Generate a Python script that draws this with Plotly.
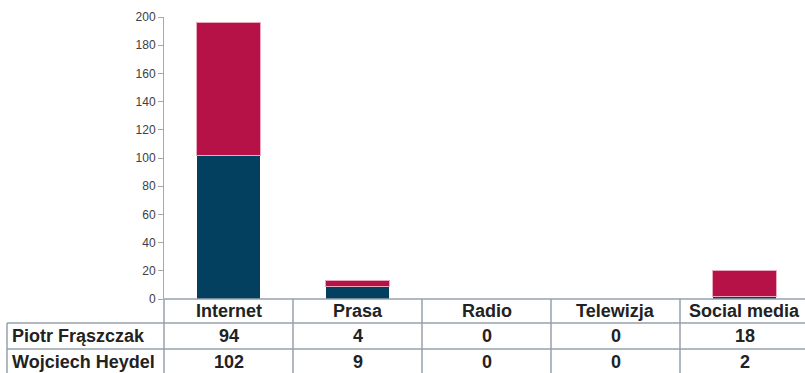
import plotly.graph_objects as go

# Media mentions per channel, split by person
categories = ["Internet", "Prasa", "Radio", "Telewizja", "Social media"]
series_names = ["Piotr Frąszczak", "Wojciech Heydel"]
piotr = [94, 4, 0, 0, 18]
wojciech = [102, 9, 0, 0, 2]
y_ticks = [0, 20, 40, 60, 80, 100, 120, 140, 160, 180, 200]

BLUE = "#03405F"
RED = "#B71247"
GRID = "#97A0AA"
TEXT = "#222222"
FONT = "Liberation Sans, Arial, sans-serif"

W, H = 805, 373
M_L, M_R, M_T, M_B = 164, 0, 17, 74
PLOT_W = W - M_L - M_R
PLOT_H = H - M_T - M_B
X_MIN = -0.5
X_MAX = X_MIN + PLOT_W / 129.0

fig = go.Figure()
fig.add_trace(go.Bar(
    name=series_names[1], x=categories, y=wojciech,
    marker=dict(color=BLUE, line=dict(color="rgba(255,255,255,0.55)", width=1)),
))
fig.add_trace(go.Bar(
    name=series_names[0], x=categories, y=piotr,
    marker=dict(color=RED, line=dict(color="#EBA9BD", width=1)),
))


def px_x(xpx):
    return (xpx - M_L) / PLOT_W


def px_y(ypx):
    return (H - M_B - ypx) / PLOT_H


def cat_x(v):
    return (v - X_MIN) / (X_MAX - X_MIN)


shapes = []
annotations = []

# table geometry (pixel rows)
row_top = H - M_B          # header row starts at the x axis
row_lines = [row_top, 323, 349, 375]
row_centers = [(row_lines[i] + row_lines[i + 1]) / 2 for i in range(3)]
left_edge = px_x(7)
right_edge = cat_x(len(categories) - 0.5) + 0.02

line_style = dict(color=GRID, width=1.5)
# horizontal rules
shapes.append(dict(type="line", xref="paper", yref="paper",
                   x0=0, x1=right_edge, y0=px_y(row_lines[0]), y1=px_y(row_lines[0]),
                   line=line_style))
for yl in row_lines[1:]:
    shapes.append(dict(type="line", xref="paper", yref="paper",
                       x0=left_edge, x1=right_edge, y0=px_y(yl), y1=px_y(yl),
                       line=line_style))
# left border of the label column
shapes.append(dict(type="line", xref="paper", yref="paper",
                   x0=left_edge, x1=left_edge, y0=px_y(row_lines[1]), y1=px_y(row_lines[3]),
                   line=line_style))
# column separators
for i in range(len(categories)):
    xb = cat_x(i - 0.5)
    shapes.append(dict(type="line", xref="paper", yref="paper",
                       x0=xb, x1=xb, y0=px_y(row_lines[0]), y1=px_y(row_lines[3]),
                       line=line_style))

cell_font = dict(family=FONT, size=18, color=TEXT)
# header row with category names
for i, c in enumerate(categories):
    annotations.append(dict(text=f"<b>{c}</b>", xref="paper", yref="paper",
                            x=cat_x(i), y=px_y(row_centers[0]),
                            xanchor="center", yanchor="middle", showarrow=False,
                            font=cell_font))
# data rows
for r, (name, vals) in enumerate([(series_names[0], piotr), (series_names[1], wojciech)]):
    yc = px_y(row_centers[r + 1])
    annotations.append(dict(text=f"<b>{name}</b>", xref="paper", yref="paper",
                            x=px_x(10), y=yc, xanchor="left", yanchor="middle",
                            showarrow=False, font=cell_font))
    for i, v in enumerate(vals):
        annotations.append(dict(text=f"<b>{v}</b>", xref="paper", yref="paper",
                                x=cat_x(i), y=yc, xanchor="center", yanchor="middle",
                                showarrow=False, font=cell_font))

fig.update_layout(
    width=W, height=H,
    margin=dict(l=M_L, r=M_R, t=M_T, b=M_B, pad=0),
    barmode="stack",
    bargap=0.51,
    showlegend=False,
    plot_bgcolor="white",
    paper_bgcolor="white",
    font=dict(family=FONT, color="#404040"),
    xaxis=dict(range=[X_MIN, X_MAX], showticklabels=False, showline=False,
               showgrid=False, zeroline=False, ticks=""),
    yaxis=dict(range=[0, 200], tickvals=y_ticks, showgrid=False, zeroline=False,
               showline=True, linecolor="#A8A8A8", linewidth=1,
               ticks="outside", ticklen=5, tickcolor="#A8A8A8",
               tickfont=dict(family=FONT, size=12, color="#404040")),
    shapes=shapes,
    annotations=annotations,
)

fig.write_html("out.html")
